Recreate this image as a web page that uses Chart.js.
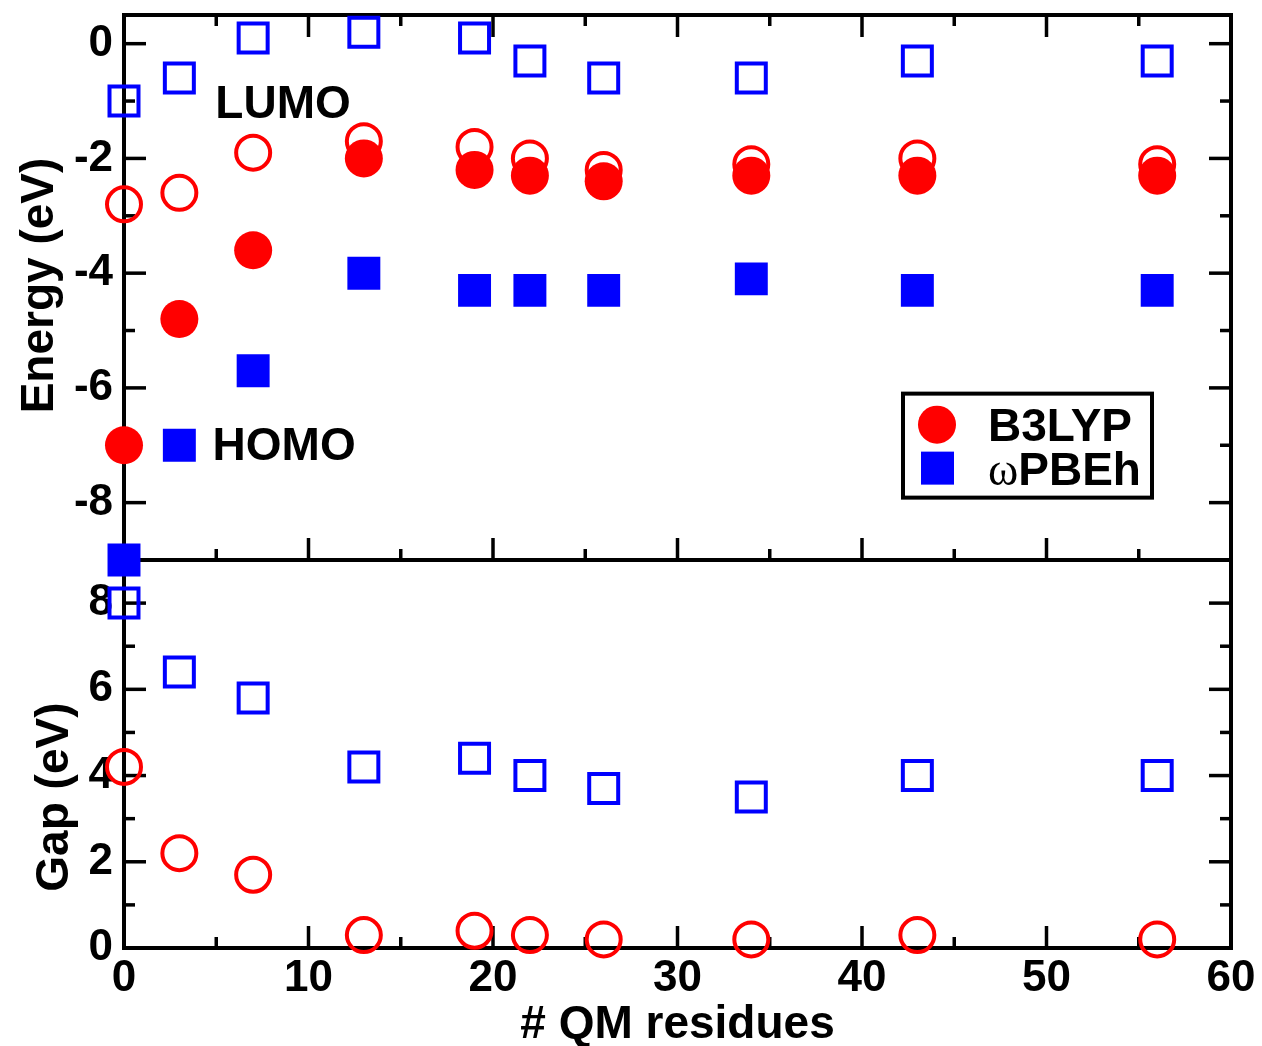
<!DOCTYPE html>
<html>
<head>
<meta charset="utf-8">
<script src="https://cdn.jsdelivr.net/npm/chart.js@4"></script>
<style>
  html, body { margin: 0; padding: 0; background: #fff; }
</style>
</head>
<body>
<canvas id="gapChart" width="1262" height="1046"></canvas>
<script>
// number of QM residues (x) and orbital energies / gaps
const residues = [0, 3, 7, 13, 19, 22, 26, 34, 43, 56];
const b3lypLumo = [-2.8, -2.6, -1.9, -1.7, -1.8, -2.0, -2.2, -2.1, -2.0, -2.1];
const b3lypHomo = [-7.0, -4.8, -3.6, -2.0, -2.2, -2.3, -2.4, -2.3, -2.3, -2.3];
const wpbehLumo = [-1.0, -0.6, 0.1, 0.2, 0.1, -0.3, -0.6, -0.6, -0.3, -0.3];
const wpbehHomo = [-9.0, -7.0, -5.7, -4.0, -4.3, -4.3, -4.3, -4.1, -4.3, -4.3];
const b3lypGap = [4.2, 2.2, 1.7, 0.3, 0.4, 0.3, 0.2, 0.2, 0.3, 0.2];
const wpbehGap = [8.0, 6.4, 5.8, 4.2, 4.4, 4.0, 3.7, 3.5, 4.0, 4.0];

const xTicks = [0, 10, 20, 30, 40, 50, 60];
const energyTicks = [-8, -6, -4, -2, 0];
const gapTicks = [0, 2, 4, 6, 8];
const legendNames = ['B3LYP', 'PBEh'];

const RED = '#ff0000';
const BLUE = '#0000ff';
const FONT = "'Liberation Sans', Arial, Helvetica, sans-serif";

Chart.defaults.font.family = FONT;
Chart.defaults.color = '#000';

const pts = (ys) => residues.map((x, i) => ({ x: x, y: ys[i] }));

const openCircle = { pointStyle: 'circle', pointRadius: 17, pointBorderWidth: 4, pointBorderColor: RED, pointBackgroundColor: 'rgba(0,0,0,0)' };
const fullCircle = { pointStyle: 'circle', pointRadius: 19, pointBorderWidth: 0, pointBackgroundColor: RED };
const openSquare = { pointStyle: 'rect', pointRadius: 20.5, pointBorderWidth: 4, pointBorderColor: BLUE, pointBackgroundColor: 'rgba(0,0,0,0)' };
const fullSquare = { pointStyle: 'rect', pointRadius: 23.3, pointBorderWidth: 0, pointBackgroundColor: BLUE };

// frame, inward ticks, titles, labels and legend
const decorations = {
  id: 'decorations',
  beforeDatasetsDraw(chart) {
    const { ctx, chartArea: a, scales } = chart;
    const x = scales.x, yE = scales.yE, yG = scales.yG;
    const mid = yE.bottom;
    const major = 22, minor = 11;
    ctx.save();
    ctx.strokeStyle = '#000';
    ctx.lineCap = 'butt';

    ctx.lineWidth = 3.5;
    const seg = (x1, y1, x2, y2) => { ctx.beginPath(); ctx.moveTo(x1, y1); ctx.lineTo(x2, y2); ctx.stroke(); };
    // x ticks: top of energy panel (down), bottom of energy panel (up), bottom of gap panel (up)
    for (let v = 5; v < 60; v += 5) {
      const px = x.getPixelForValue(v);
      const len = v % 10 === 0 ? major : minor;
      seg(px, a.top, px, a.top + len);
      seg(px, mid, px, mid - len);
      seg(px, a.bottom, px, a.bottom - len);
    }
    // y ticks energy panel
    for (let v = -8; v <= 0; v += 1) {
      const py = yE.getPixelForValue(v);
      const len = v % 2 === 0 ? major : minor;
      seg(a.left, py, a.left + len, py);
      seg(a.right, py, a.right - len, py);
    }
    // y ticks gap panel
    for (let v = 1; v <= 8; v += 1) {
      const py = yG.getPixelForValue(v);
      const len = v % 2 === 0 ? major : minor;
      seg(a.left, py, a.left + len, py);
      seg(a.right, py, a.right - len, py);
    }

    ctx.lineWidth = 4;
    ctx.strokeRect(a.left, a.top, a.right - a.left, a.bottom - a.top);
    seg(a.left - 2, mid, a.right + 2, mid);

    // axis titles
    ctx.fillStyle = '#000';
    ctx.font = 'bold 46px ' + FONT;
    ctx.textAlign = 'center';
    ctx.textBaseline = 'alphabetic';
    ctx.fillText('# QM residues', (a.left + a.right) / 2, 1038);
    ctx.textBaseline = 'middle';
    ctx.save();
    ctx.translate(40, (yE.top + yE.bottom) / 2 - 2);
    ctx.rotate(-Math.PI / 2);
    ctx.fillText('Energy (eV)', 0, 0);
    ctx.restore();
    ctx.save();
    ctx.translate(55, yG.getPixelForValue(3.5));
    ctx.rotate(-Math.PI / 2);
    ctx.fillText('Gap (eV)', 0, 0);
    ctx.restore();
    ctx.restore();
  },
  afterDatasetsDraw(chart) {
    const { ctx, chartArea: a, scales } = chart;
    const x = scales.x, yE = scales.yE;
    ctx.save();
    ctx.fillStyle = '#000';
    ctx.font = 'bold 46px ' + FONT;
    ctx.textAlign = 'left';
    ctx.textBaseline = 'alphabetic';
    ctx.fillText('LUMO', x.getPixelForValue(4.95), yE.getPixelForValue(-1.3));
    ctx.fillText('HOMO', x.getPixelForValue(4.8), yE.getPixelForValue(-7.25));

    // legend box
    const bx = a.right - 328, by = yE.getPixelForValue(-6.1);
    const bw = 249, bh = 104;
    ctx.lineWidth = 4;
    ctx.strokeStyle = '#000';
    ctx.strokeRect(bx, by, bw, bh);
    ctx.fillStyle = RED;
    ctx.beginPath();
    ctx.arc(bx + 34, by + 31, 19, 0, Math.PI * 2);
    ctx.fill();
    ctx.fillStyle = BLUE;
    ctx.fillRect(bx + 18, by + 58, 33, 33);
    ctx.fillStyle = '#000';
    ctx.textBaseline = 'alphabetic';
    ctx.font = 'bold 46px ' + FONT;
    ctx.fillText(legendNames[0], bx + 85, by + 47);
    ctx.font = '46px "Liberation Serif", "Times New Roman", serif';
    ctx.fillText('\u03c9', bx + 85, by + 91);
    const w = ctx.measureText('\u03c9').width;
    ctx.font = 'bold 46px ' + FONT;
    ctx.fillText(legendNames[1], bx + 85 + w, by + 91);
    ctx.restore();
  }
};

const tickFont = { size: 44, weight: 'bold', lineHeight: 0.5 };
const noEdgePad = (s) => { s.paddingTop = 0; s.paddingBottom = 0; };

new Chart(document.getElementById('gapChart'), {
  type: 'scatter',
  data: {
    datasets: [
      Object.assign({ label: 'B3LYP LUMO', data: pts(b3lypLumo), yAxisID: 'yE' }, openCircle),
      Object.assign({ label: 'B3LYP HOMO', data: pts(b3lypHomo), yAxisID: 'yE' }, fullCircle),
      Object.assign({ label: 'wPBEh LUMO', data: pts(wpbehLumo), yAxisID: 'yE' }, openSquare),
      Object.assign({ label: 'wPBEh HOMO', data: pts(wpbehHomo), yAxisID: 'yE' }, fullSquare),
      Object.assign({ label: 'B3LYP gap', data: pts(b3lypGap), yAxisID: 'yG' }, openCircle),
      Object.assign({ label: 'wPBEh gap', data: pts(wpbehGap), yAxisID: 'yG' }, openSquare)
    ].map(d => Object.assign(d, { clip: false, showLine: false }))
  },
  options: {
    responsive: false,
    animation: false,
    events: [],
    layout: { autoPadding: false, padding: { top: 15, right: 31, left: 0, bottom: 0 } },
    plugins: { legend: { display: false }, tooltip: { enabled: false } },
    scales: {
      x: {
        type: 'linear', position: 'bottom', min: 0, max: 60,
        grid: { display: false, drawTicks: false },
        border: { display: false },
        ticks: { padding: 4, font: { size: 44, weight: 'bold', lineHeight: 1.2 }, maxRotation: 0, autoSkip: false },
        afterBuildTicks: (s) => { s.ticks = xTicks.map(v => ({ value: v })); },
        afterFit: (s) => { s.height = 98; s.paddingLeft = 0; s.paddingRight = 0; }
      },
      yG: {
        type: 'linear', position: 'left', stack: 'panels', stackWeight: 388, min: 0, max: 9,
        grid: { display: false, drawTicks: false },
        border: { display: false },
        ticks: { padding: 11, font: tickFont },
        afterBuildTicks: (s) => { s.ticks = gapTicks.map(v => ({ value: v })); },
        afterFit: (s) => { s.width = 124; noEdgePad(s); }
      },
      yE: {
        type: 'linear', position: 'left', stack: 'panels', stackWeight: 545, min: -9, max: 0.5,
        grid: { display: false, drawTicks: false },
        border: { display: false },
        ticks: { padding: 11, font: tickFont },
        afterBuildTicks: (s) => { s.ticks = energyTicks.map(v => ({ value: v })); },
        afterFit: (s) => { s.width = 124; noEdgePad(s); }
      }
    }
  },
  plugins: [decorations]
});
</script>
</body>
</html>
